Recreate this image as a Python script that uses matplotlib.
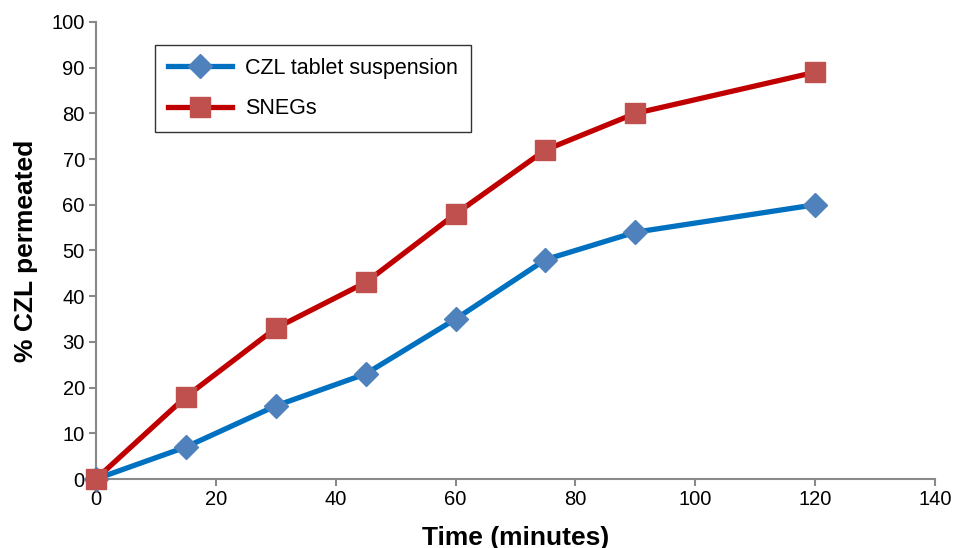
import matplotlib.pyplot as plt

plt.rcParams['font.family'] = ['Liberation Sans', 'DejaVu Sans']

# data
time_min = [0, 15, 30, 45, 60, 75, 90, 120]
tablet = [0, 7, 16, 23, 35, 48, 54, 60]
snegs = [0, 18, 33, 43, 58, 72, 80, 89]

fig = plt.figure(figsize=(9.54, 5.48), dpi=100)
ax = fig.add_axes([0.1006, 0.1259, 0.8794, 0.834])

ax.plot(time_min, tablet, color="#0070C0", linewidth=3.8, marker="D",
        markersize=12, markerfacecolor="#4F81BD", markeredgecolor="#4F81BD",
        label="CZL tablet suspension", clip_on=False, zorder=3)
ax.plot(time_min, snegs, color="#C00000", linewidth=3.8, marker="s",
        markersize=14, markerfacecolor="#C0504D", markeredgecolor="#C0504D",
        label="SNEGs", clip_on=False, zorder=4)

ax.set_xlim(0, 140)
ax.set_ylim(0, 100)
ax.set_xticks(range(0, 141, 20))
ax.set_yticks(range(0, 101, 10))

for side in ["top", "right"]:
    ax.spines[side].set_visible(False)
for side in ["left", "bottom"]:
    ax.spines[side].set_color("#898989")
    ax.spines[side].set_linewidth(1.5)
ax.tick_params(axis="both", direction="out", length=5, width=1.5,
               color="#898989", labelsize=14.5, pad=3)

ax.set_xlabel("Time (minutes)", fontsize=19, fontweight="bold", labelpad=12)
ax.set_ylabel("% CZL permeated", fontsize=19, fontweight="bold", labelpad=10)

leg = ax.legend(loc="upper left", bbox_to_anchor=(0.0703, 0.9497), fontsize=15.5,
                frameon=True, fancybox=False, borderpad=0.6, labelspacing=0.9,
                handlelength=3.0, handletextpad=0.6, borderaxespad=0)
leg.get_frame().set_edgecolor("black")
leg.get_frame().set_linewidth(1.0)

plt.savefig("out.png", dpi=100)
